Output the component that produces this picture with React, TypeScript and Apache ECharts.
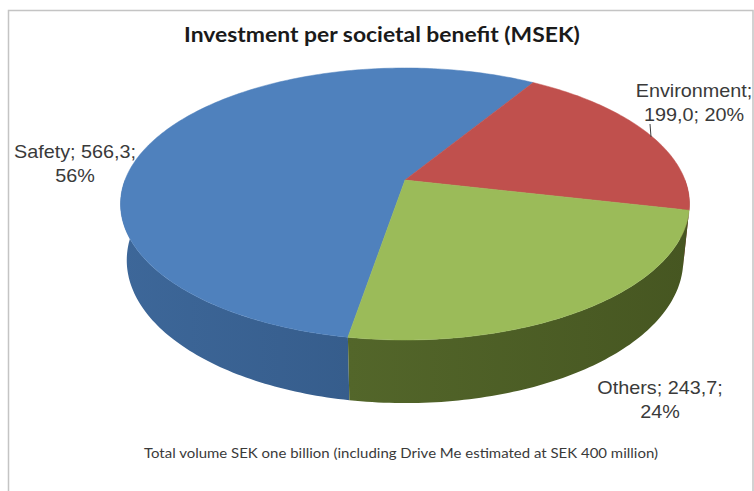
import React, { useEffect, useRef } from 'react';
import * as echarts from 'echarts';

// ---- data ----
const categories = ['Safety', 'Environment', 'Others'];
const values = [566.3, 199.0, 243.7];
const titleText = 'Investment per societal benefit (MSEK)';
const footerText = 'Total volume SEK one billion (including Drive Me estimated at SEK 400 million)';

// ---- styles / layout ----
const topColors = ['#4F81BD', '#C0504D', '#9BBB59'];
const sideColors = [
  ['#3D6799', '#365D8C'],
  ['#963734', '#862F2C'],
  ['#53662A', '#465621'],
];
const START_DEG = 99.7;
const CX = 405, CY = 180, FOC = 1400, DIST = 5, SA = 0.4706, CA = 0.882, THICK = 0.23;
const labelPos: number[][] = [[75, 163.5], [694, 102.5], [660, 399.5]];
const labelFont = '18px "Liberation Sans", Arial, sans-serif';
const labelColor = '#3a3a3a';

function proj(deg: number, y: number): number[] {
  const t = (deg * Math.PI) / 180;
  const X = Math.cos(t);
  const Z = Math.sin(t);
  const d = DIST - y * SA - Z * CA;
  return [CX + (FOC * X) / d, CY + (FOC * (Z * SA - y * CA)) / d];
}

function sliceRange(i: number): number[] {
  const total = values.reduce((a, b) => a + b, 0);
  let acc = 0;
  for (let k = 0; k < i; k++) acc += values[k];
  const a = START_DEG + (acc / total) * 360;
  const b = START_DEG + ((acc + values[i]) / total) * 360;
  return [a, b];
}

function arc(a: number, b: number, y: number): number[][] {
  const pts: number[][] = [];
  const n = Math.max(2, Math.ceil(Math.abs(b - a)));
  for (let k = 0; k <= n; k++) pts.push(proj(a + ((b - a) * k) / n, y));
  return pts;
}

function fmt(v: number): string {
  return v.toFixed(1).replace('.', ',');
}

export default function App() {
  const ref = useRef<HTMLDivElement>(null);
  useEffect(() => {
    if (!ref.current) return;
    const chart = echarts.init(ref.current, undefined, { renderer: 'svg' });
    const total = values.reduce((a, b) => a + b, 0);
    const data = values.map((v, i) => ({ name: categories[i], value: v }));

    const wallRender = (params: any, api: any) => {
      const i = params.dataIndex;
      const [a, b] = sliceRange(i);
      const children: any[] = [];
      for (let k = 0; k < 2; k++) {
        const lo = Math.max(a, 360 * k);
        const hi = Math.min(b, 360 * k + 180);
        if (lo < hi) {
          const pts = arc(lo, hi, 0).concat(arc(hi, lo, -THICK));
          children.push({
            type: 'polygon',
            shape: { points: pts },
            style: {
              fill: new echarts.graphic.LinearGradient(0, 0, 1, 0, [
                { offset: 0, color: sideColors[i][0] },
                { offset: 1, color: sideColors[i][1] },
              ]),
              stroke: null,
            },
          });
        }
      }
      return { type: 'group', children };
    };

    const topRender = (params: any, api: any) => {
      const i = params.dataIndex;
      const [a, b] = sliceRange(i);
      const pts = [[CX, CY]].concat(arc(a, b, 0));
      return {
        type: 'polygon',
        shape: { points: pts },
        style: { fill: topColors[i], stroke: topColors[i], lineWidth: 0.5 },
      };
    };

    const labelRender = (params: any, api: any) => {
      const i = params.dataIndex;
      const v = api.value(0);
      const pct = Math.round((v / total) * 100);
      const name = categories[i];
      const text =
        i === 1 ? `${name};\n${fmt(v)}; ${pct}%` : `${name}; ${fmt(v)};\n${pct}%`;
      const children: any[] = [
        {
          type: 'text',
          x: labelPos[i][0],
          y: labelPos[i][1],
          scaleX: 1.1,
          style: {
            text,
            x: 0,
            y: 0,
            align: 'center',
            verticalAlign: 'middle',
            font: labelFont,
            fill: labelColor,
            lineHeight: 24,
          },
        },
      ];
      if (i === 1) {
        children.push({
          type: 'line',
          shape: { x1: 650, y1: 124, x2: 651, y2: 137 },
          style: { stroke: '#404040', lineWidth: 1 },
        });
      }
      return { type: 'group', children };
    };

    chart.setOption({
      animation: false,
      backgroundColor: '#ffffff',
      graphic: [
        {
          type: 'rect',
          shape: { x: 8.5, y: 10.5, width: 744.5, height: 500 },
          style: { fill: 'none', stroke: '#c4c4c4', lineWidth: 1.5 },
          silent: true,
        },
        {
          type: 'text',
          x: 382,
          y: 34,
          scaleX: 1.09,
          style: {
            text: titleText,
            x: 0,
            y: 0,
            align: 'center',
            verticalAlign: 'middle',
            font: 'bold 21px Lato, "Open Sans", sans-serif',
            fill: '#1a1a1a',
          },
        },
        {
          type: 'text',
          x: 401,
          y: 453,
          scaleX: 1.07,
          style: {
            text: footerText,
            x: 0,
            y: 0,
            align: 'center',
            verticalAlign: 'middle',
            font: '14px Lato, "Open Sans", sans-serif',
            fill: '#3a3a3a',
          },
        },
      ],
      series: [
        { type: 'custom', coordinateSystem: 'none', z: 1, data, renderItem: wallRender, silent: true },
        { type: 'custom', coordinateSystem: 'none', z: 2, data, renderItem: topRender, silent: true },
        { type: 'custom', coordinateSystem: 'none', z: 3, data, renderItem: labelRender, silent: true },
      ],
    });
    return () => chart.dispose();
  }, []);
  return (
    <div
      ref={ref}
      style={{ position: 'absolute', left: 0, top: 0, width: 754, height: 491 }}
    />
  );
}
